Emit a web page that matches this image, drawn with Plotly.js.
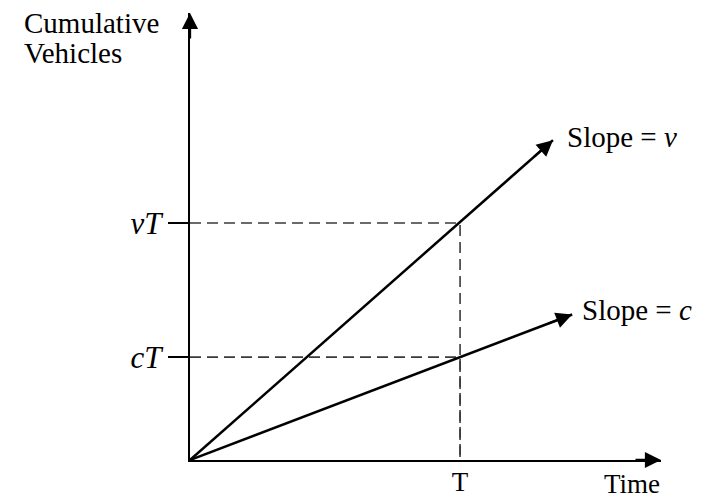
<!DOCTYPE html>
<html>
<head>
<meta charset="utf-8">
<script src="https://cdn.plot.ly/plotly-3.0.1.min.js"></script>
<style>html,body{margin:0;padding:0;background:#fff;}#chart{width:706px;height:503px;}</style>
</head>
<body>
<div id="chart"></div>
<script>
// Data (abstract units)
const T = 10;
const vT = 8.78;
const cT = 3.81;
const slopeVX = [0, 13.44];
const slopeVY = [0, 11.85];
const slopeCX = [0, 14.15];
const slopeCY = [0, 5.39];
const yTickVals = [vT, cT];
const yTickText = ['<i>vT</i>', '<i>cT</i>'];
const xTickVals = [T];
const xTickText = ['T'];
const xMax = 17.44;
const yMax = 16.56;

const FONT = 'Liberation Serif, Times New Roman, serif';
const FS = 29;

const traces = [
  { x: [0, T, T], y: [vT, vT, 0], mode: 'lines', line: {color: '#3a3a3a', width: 1.6, dash: '11px,6px'}, hoverinfo: 'skip' },
  { x: [0, T, T], y: [cT, cT, 0], mode: 'lines', line: {color: '#3a3a3a', width: 1.6, dash: '11px,6px'}, hoverinfo: 'skip' },
  { x: slopeVX, y: slopeVY, mode: 'lines', line: {color: '#000', width: 2.5}, hoverinfo: 'skip' },
  { x: slopeCX, y: slopeCY, mode: 'lines', line: {color: '#000', width: 2.5}, hoverinfo: 'skip' }
];

function head(x, y, ax, ay) {
  return { x: x, y: y, ax: ax, ay: ay, xref: 'x', yref: 'y', axref: 'x', ayref: 'y',
    text: '', showarrow: true, arrowhead: 2, arrowsize: 1.4, arrowwidth: 2.3, arrowcolor: '#000' };
}
function lastDir(xs, ys) {
  const n = xs.length - 1;
  const dx = xs[n] - xs[n - 1], dy = ys[n] - ys[n - 1];
  const L = Math.hypot(dx, dy);
  return [xs[n] - dx / L, ys[n] - dy / L];
}
const vTail = lastDir(slopeVX, slopeVY);
const cTail = lastDir(slopeCX, slopeCY);

const layout = {
  width: 706, height: 503,
  margin: {l: 190, r: 45, t: 13, b: 43},
  paper_bgcolor: '#fff', plot_bgcolor: '#fff',
  showlegend: false,
  font: {family: FONT, color: '#000', size: FS},
  xaxis: {
    range: [0, xMax], showgrid: false, zeroline: false,
    showline: true, linecolor: '#000', linewidth: 2.3,
    tickvals: xTickVals, ticktext: xTickText, ticks: '', ticklabelstandoff: -4,
    tickfont: {family: FONT, size: 27, color: '#000'}, fixedrange: true
  },
  yaxis: {
    range: [0, yMax], showgrid: false, zeroline: false,
    showline: true, linecolor: '#000', linewidth: 2.3,
    tickvals: yTickVals, ticktext: yTickText, ticks: 'outside', ticklen: 20, tickwidth: 1.8, tickcolor: '#000',
    tickfont: {family: FONT, size: 31, color: '#000'}, fixedrange: true
  },
  annotations: [
    head(xMax, 0, xMax - 1, 0),
    head(0, yMax, 0, yMax - 1),
    head(slopeVX[1], slopeVY[1], vTail[0], vTail[1]),
    head(slopeCX[1], slopeCY[1], cTail[0], cTail[1]),
    { x: slopeVX[1], y: slopeVY[1], xref: 'x', yref: 'y', text: 'Slope = <i>v</i>', showarrow: false,
      xanchor: 'left', yanchor: 'middle', xshift: 12, yshift: 3, font: {family: FONT, size: FS} },
    { x: slopeCX[1], y: slopeCY[1], xref: 'x', yref: 'y', text: 'Slope = <i>c</i>', showarrow: false,
      xanchor: 'left', yanchor: 'middle', xshift: 8, yshift: 5, font: {family: FONT, size: FS} },
    { x: -0.3567, y: 0.9776, xref: 'paper', yref: 'paper', text: 'Cumulative', showarrow: false,
      xanchor: 'left', yanchor: 'middle', font: {family: FONT, size: FS} },
    { x: -0.3567, y: 0.9105, xref: 'paper', yref: 'paper', text: 'Vehicles', showarrow: false,
      xanchor: 'left', yanchor: 'middle', font: {family: FONT, size: FS} },
    { x: 0.9384, y: -0.0917, xref: 'paper', yref: 'paper', text: 'Time', showarrow: false,
      xanchor: 'center', yanchor: 'bottom', font: {family: FONT, size: 27} }
  ]
};

Plotly.newPlot('chart', traces, layout, {displayModeBar: false, staticPlot: true});
</script>
</body>
</html>
